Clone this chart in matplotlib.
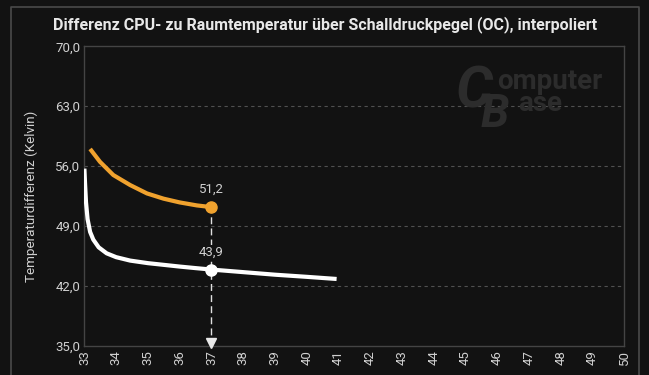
#!/usr/bin/env python3
"""
CPU-/Raumtemperatur-Differenz über Schalldruckpegel (OC), interpoliert
Ausgabe: out.png
"""

import matplotlib
matplotlib.use('Agg')
import matplotlib.pyplot as plt
from matplotlib.lines import Line2D

plt.rcParams['font.family'] = ['Roboto', 'DejaVu Sans']

# Daten
white_x = [33.0, 33.02, 33.05, 33.1, 33.18, 33.28, 33.45, 33.7, 34.0, 34.44,
           35.0, 35.5, 36.0, 36.5, 37.0, 38.0, 39.0, 40.0, 40.94]
white_y = [55.7, 54.0, 51.8, 49.8, 48.3, 47.4, 46.5, 45.8, 45.35, 44.95,
           44.65, 44.45, 44.25, 44.07, 43.9, 43.6, 43.3, 43.05, 42.8]
orange_x = [33.18, 33.49, 33.91, 34.44, 34.97, 35.49, 36.0, 36.54, 37.0]
orange_y = [58.0, 56.5, 54.95, 53.78, 52.8, 52.19, 51.75, 51.4, 51.2]

marker_x = 37
white_mark = 43.9
orange_mark = 51.2

x_ticks = list(range(33, 51))
y_ticks = [35.0, 42.0, 49.0, 56.0, 63.0, 70.0]

BG = '#121212'
GRID = '#505050'
TXT = '#d0d0d0'
ORANGE = '#f0a22e'

fig = plt.figure(figsize=(6.49, 3.75), dpi=100, facecolor=BG)
ax = fig.add_axes([84.4 / 649, 29.3 / 375, 540 / 649, 299.4 / 375], facecolor=BG)

# Rahmen um das Diagramm
W, H = 649, 375
def fx(p): return p / W
def fy(p): return 1 - p / H
frame = Line2D([fx(10.5), fx(10.5), fx(639.3), fx(639.3)],
               [0, fy(6.5), fy(6.5), 0], transform=fig.transFigure,
               color='#4a4a4a', lw=1.2)
fig.add_artist(frame)

# Wasserzeichen
wm = '#2c2c2c'
fig.text(fx(456), fy(107), 'C', fontsize=42, fontweight='bold', style='italic', color=wm)
fig.text(fx(497), fy(89), 'omputer', fontsize=20, fontweight='bold', color=wm)
fig.text(fx(481), fy(127), 'B', fontsize=33, fontweight='bold', style='italic', color=wm)
fig.text(fx(518), fy(111), 'ase', fontsize=20, fontweight='bold', color=wm)

ax.set_xlim(33, 50)
ax.set_ylim(35, 70)

for y in y_ticks[1:-1]:
    ax.axhline(y, color=GRID, lw=0.8, ls=(0, (3, 3)), zorder=1)

ax.plot(white_x, white_y, color='white', lw=3, solid_capstyle='butt', zorder=3)
ax.plot(orange_x, orange_y, color=ORANGE, lw=3, solid_capstyle='butt', zorder=3)

ax.plot([marker_x, marker_x], [35, orange_mark], color='#e0e0e0', lw=1,
        ls=(0, (5, 3)), zorder=2)
ax.plot([marker_x], [35.3], marker='v', color='#e8e8e8', ms=7, clip_on=False, zorder=5)

ax.plot([marker_x], [orange_mark], 'o', color=ORANGE, ms=8, zorder=4)
ax.plot([marker_x], [white_mark], 'o', color='white', ms=8, zorder=4)
for val in (orange_mark, white_mark):
    ax.annotate(f'{val:.1f}'.replace('.', ','), (marker_x, val), xytext=(0, 8),
                textcoords='offset points', ha='center', va='bottom', color=TXT,
                fontsize=9.5, zorder=6,
                bbox=dict(boxstyle='square,pad=0.05', fc=BG, ec='none'))

ax.set_xticks(x_ticks)
ax.set_xticklabels([str(x) for x in x_ticks], rotation=90)
ax.set_yticks(y_ticks)
ax.set_yticklabels([f'{y:.1f}'.replace('.', ',') for y in y_ticks])
ax.tick_params(colors=TXT, labelsize=9.5, length=0, pad=3)
for s in ax.spines.values():
    s.set_color('#444444')
    s.set_linewidth(1)

ax.set_ylabel('Temperaturdifferenz (Kelvin)', color=TXT, fontsize=9.7, labelpad=12)

fig.text(fx(325), fy(25), 'Differenz CPU- zu Raumtemperatur über Schalldruckpegel (OC), interpoliert',
         ha='center', va='center', color='#e8e8e8', fontsize=11.5, fontweight='bold')

fig.savefig('out.png', dpi=100, facecolor=BG)
